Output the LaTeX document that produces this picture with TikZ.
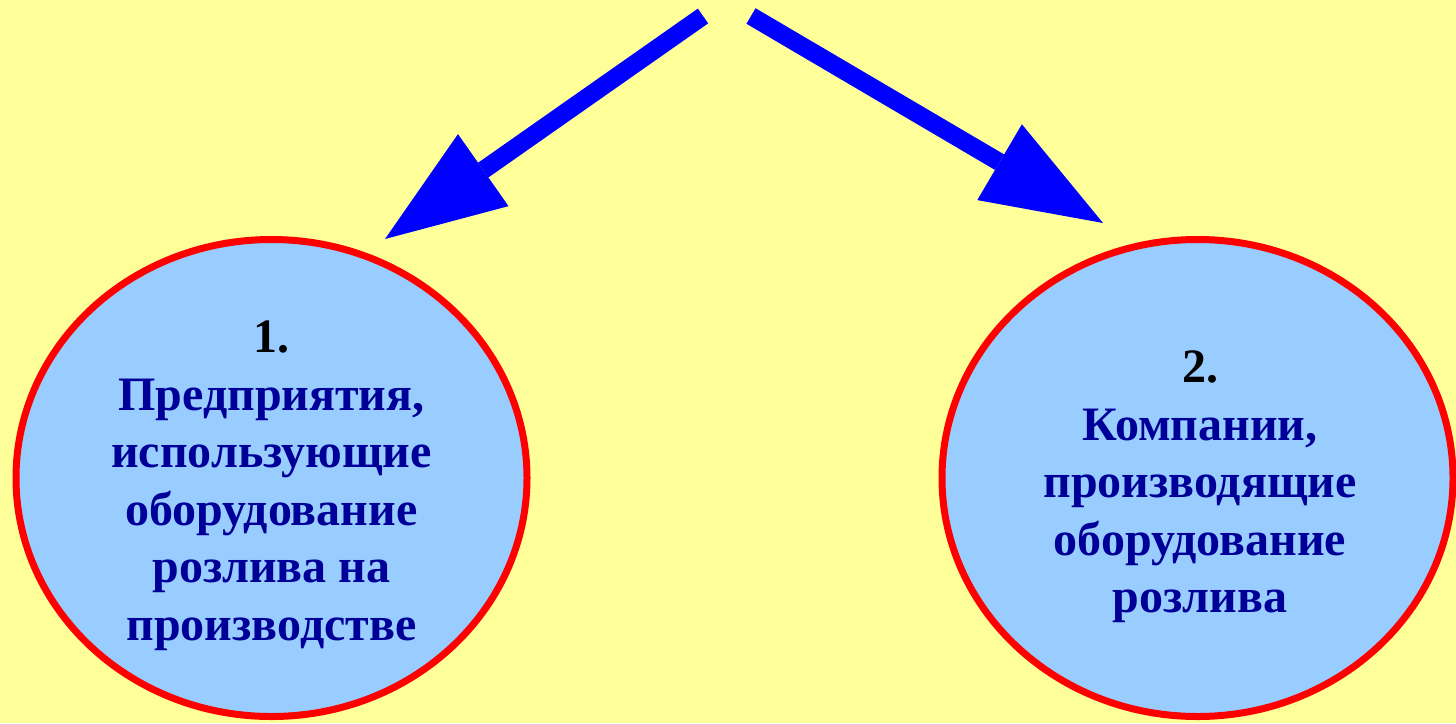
\documentclass[tikz,border=0pt]{standalone}
\usepackage{fontspec}
\setmainfont{Liberation Serif}
\usetikzlibrary{arrows.meta,shapes.geometric}
\definecolor{bgyellow}{HTML}{FFFF99}
\definecolor{cfill}{HTML}{99CCFF}
\definecolor{tblue}{HTML}{000099}
\definecolor{ablue}{HTML}{0000FF}
\begin{document}
\begin{tikzpicture}[x=1pt,y=-1pt,
  circ/.style={ellipse, draw=red, line width=7pt, fill=cfill, minimum width=511pt, minimum height=477pt, inner sep=0pt},
  lbl/.style={align=center, font=\bfseries\fontsize{48}{57.5}\selectfont, text=tblue, inner sep=0pt},
  bigarrow/.style={draw=ablue, line width=18pt, -{Triangle[length=120pt,width=88pt,line width=0pt]}}]
\fill[bgyellow] (0,0) rectangle (1456,723);
\useasboundingbox (0,0) rectangle (1456,723);
\node[circ] (e1) at (271.5,478) {};
\node[circ] (e2) at (1197.5,478) {};
\node[lbl, anchor=north] (t1) at (271.5,321) {\textcolor{black}{1.}\\Предприятия,\\использующие\\оборудование\\розлива на\\производстве};
\node[lbl, anchor=north] (t2) at (1200,351) {\textcolor{black}{2.}\\Компании,\\производящие\\оборудование\\розлива};
\coordinate (s1) at (703,16);
\coordinate (tip1) at (385,239);
\coordinate (s2) at (751,16);
\coordinate (tip2) at (1103,223);
\draw[bigarrow] (s1) -- (tip1);
\draw[bigarrow] (s2) -- (tip2);
\end{tikzpicture}
\end{document}
